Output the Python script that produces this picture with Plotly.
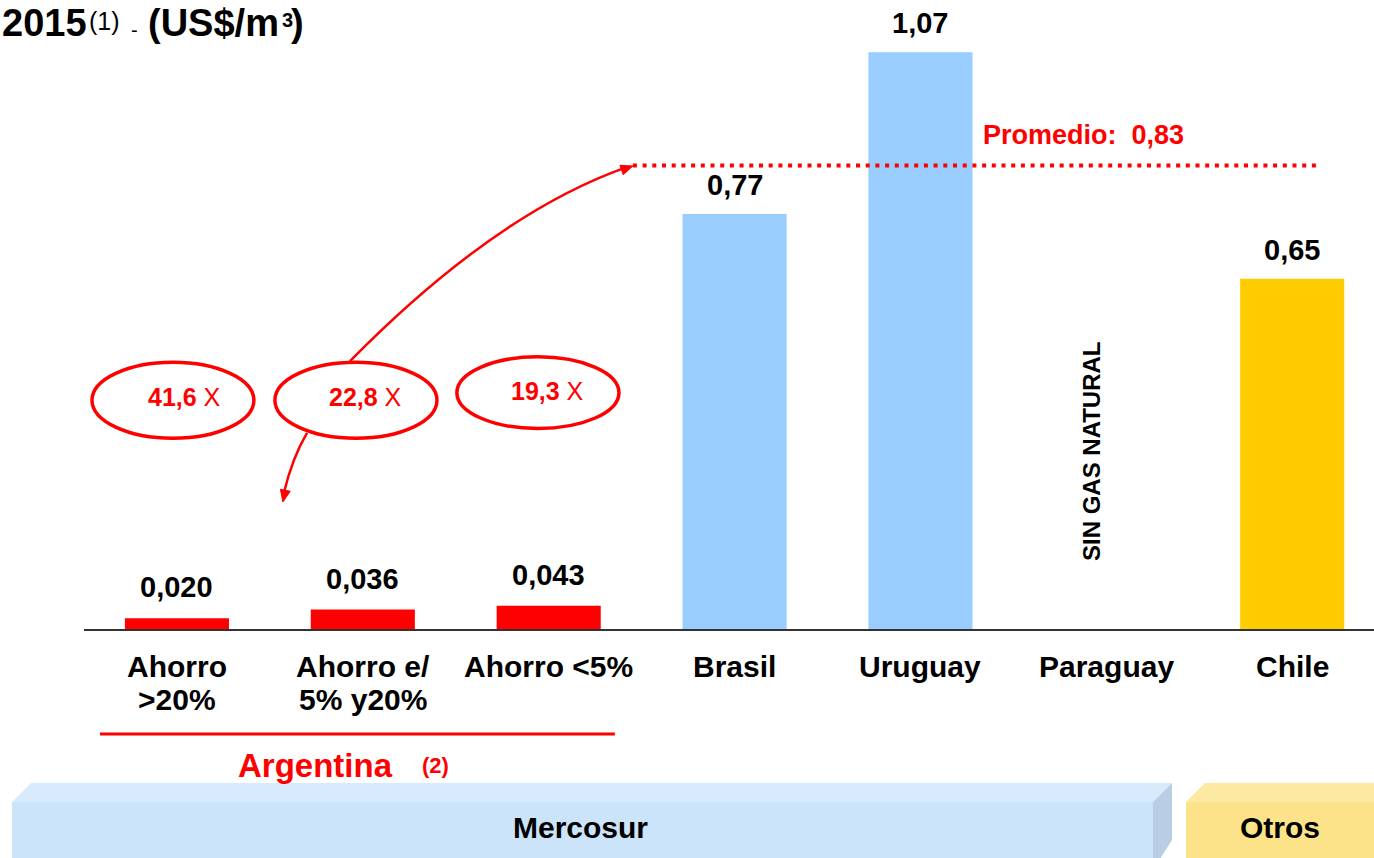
import math
import plotly.graph_objects as go

# ---------------- data ----------------
categorias = ["Ahorro >20%", "Ahorro e/ 5% y20%", "Ahorro <5%", "Brasil", "Uruguay", "Paraguay", "Chile"]
etiquetas_categoria = ["Ahorro<br>&gt;20%", "Ahorro e/<br>5% y20%", "Ahorro &lt;5%",
                       "Brasil", "Uruguay", "Paraguay", "Chile"]
precios = [0.020, 0.036, 0.043, 0.77, 1.07, None, 0.65]   # US$/m3
grupo = ["Argentina", "Argentina", "Argentina", "Mercosur", "Mercosur", "Mercosur", "Otros"]
multiplos = [41.6, 22.8, 19.3]       # veces respecto del promedio
promedio = 0.83                       # valor rotulado
promedio_linea = 0.86                 # nivel de la linea punteada

# ---------------- styles ----------------
FONT = "Liberation Sans, Arial, sans-serif"
RED = "#FF0000"
colores_grupo = {"Argentina": "#FF0000", "Mercosur": "#99CCFF", "Otros": "#FFCC00"}
colores = [colores_grupo[g] for g in grupo]
label_shift = {"Argentina": 31, "Mercosur": 29, "Otros": 29}

W, H = 1374, 858
ML, MB = 84, 229
XR = [-0.5, 6.44]
YR = [0, 1.167]
SX = (W - ML) / (XR[1] - XR[0])      # px per x unit
SY = (H - MB) / (YR[1] - YR[0])      # px per y unit
PW, PH = W - ML, H - MB


def xp(px):
    return (px - ML) / PW


def yp(py):
    return (PH - py) / PH


fig = go.Figure()
fig.add_trace(go.Bar(
    x=list(range(len(categorias))), y=precios,
    marker=dict(color=colores, line=dict(width=0)),
    width=0.56, hoverinfo="skip", showlegend=False,
))

ann = []
shapes = []

# value labels
for i, (v, g) in enumerate(zip(precios, grupo)):
    if v is None:
        continue
    txt = (f"{v:.3f}" if g == "Argentina" else f"{v:.2f}").replace(".", ",")
    ann.append(dict(x=i, y=v, xref="x", yref="y", text=f"<b>{txt}</b>", showarrow=False,
                    yanchor="middle", yshift=label_shift[g], font=dict(family=FONT, size=29, color="black")))

# category labels (one annotation per line)
for i, lab in enumerate(etiquetas_categoria):
    for j, line in enumerate(lab.split("<br>")):
        ann.append(dict(x=i, y=yp(666 + 34 * j), xref="x", yref="paper", text=f"<b>{line}</b>",
                        showarrow=False, yanchor="middle",
                        font=dict(family=FONT, size=30, color="black")))

# Paraguay note
ann.append(dict(x=4.917, y=0.33, xref="x", yref="y", text="<b>SIN GAS NATURAL</b>", textangle=-90,
                showarrow=False, font=dict(family=FONT, size=24, color="black")))

# average line + label
shapes.append(dict(type="line", xref="x", yref="y", x0=2.453, x1=6.138, y0=promedio_linea, y1=promedio_linea,
                   line=dict(color=RED, width=4, dash="4px,5.7px")))
ann.append(dict(x=4.879, y=0.9165, xref="x", yref="y",
                text=f"<b>Promedio:\u00a0\u00a0{promedio:.2f}</b>".replace(".", ","),
                showarrow=False, font=dict(family=FONT, size=27, color=RED)))

# ellipses with multiples
ell_x = [(-0.457, 0.414), (0.527, 1.399), (1.506, 2.378)]
ell_y = [(0.354, 0.495), (0.354, 0.495), (0.372, 0.505)]
txt_pos = [(0.038, 0.430), (1.017, 0.430), (1.996, 0.442)]
for (x0, x1), (y0, y1), (tx, ty), m in zip(ell_x, ell_y, txt_pos, multiplos):
    shapes.append(dict(type="circle", xref="x", yref="y", x0=x0, x1=x1, y0=y0, y1=y1,
                       line=dict(color=RED, width=3.5)))
    ann.append(dict(x=tx, y=ty, xref="x", yref="y",
                    text=f"<b>{m:.1f}</b>".replace(".", ",") + " X", showarrow=False,
                    font=dict(family=FONT, size=25, color=RED)))


def arrow_head(tip, ctrl, length=12, half=5):
    """small filled triangle at tip, oriented along ctrl->tip (data coords)."""
    dxp = (tip[0] - ctrl[0]) * SX
    dyp = -(tip[1] - ctrl[1]) * SY
    n = math.hypot(dxp, dyp)
    ux, uy = dxp / n, dyp / n
    bx, by = -ux * length, -uy * length
    px, py = -uy * half, ux * half
    pts = [(0, 0), (bx + px, by + py), (bx - px, by - py)]
    coords = [(tip[0] + a / SX, tip[1] - b / SY) for a, b in pts]
    return "M " + " L ".join(f"{a:.4f},{b:.4f}" for a, b in coords) + " Z"


# curved arrows
up_start, up_ctrl, up_tip = (0.931, 0.497), (1.711, 0.770), (2.453, 0.859)
shapes.append(dict(type="path", xref="x", yref="y",
                   path=f"M {up_start[0]},{up_start[1]} Q {up_ctrl[0]},{up_ctrl[1]} {up_tip[0] - 0.04},{up_tip[1] - 0.003}",
                   line=dict(color=RED, width=2.5)))
shapes.append(dict(type="path", xref="x", yref="y", path=arrow_head(up_tip, up_ctrl),
                   fillcolor=RED, line=dict(color=RED, width=1)))
dn_start, dn_ctrl, dn_tip = (0.70, 0.364), (0.619, 0.317), (0.570, 0.2356)
shapes.append(dict(type="path", xref="x", yref="y",
                   path=f"M {dn_start[0]},{dn_start[1]} Q {dn_ctrl[0]},{dn_ctrl[1]} {dn_tip[0] + 0.004},{dn_tip[1] + 0.015}",
                   line=dict(color=RED, width=2.5)))
shapes.append(dict(type="path", xref="x", yref="y", path=arrow_head(dn_tip, dn_ctrl),
                   fillcolor=RED, line=dict(color=RED, width=1)))

# Argentina bracket
shapes.append(dict(type="line", xref="x", yref="paper", x0=-0.414, x1=2.356, y0=yp(734), y1=yp(734),
                   line=dict(color=RED, width=3)))
ann.append(dict(x=0.743, y=yp(766), xref="x", yref="paper", text="<b>Argentina</b>", showarrow=False,
                yanchor="middle", font=dict(family=FONT, size=33, color=RED)))
ann.append(dict(x=1.390, y=yp(765), xref="x", yref="paper", text="<b>(2)</b>", showarrow=False,
                yanchor="middle", font=dict(family=FONT, size=22, color=RED)))

# 3D bands: Mercosur / Otros (paper coordinates so they are not clipped)
yt, ym, yb, ys = yp(783), yp(802), yp(870), yp(840)
xa, xb, xc, xd = xp(12), xp(31), xp(1153), xp(1172)
xe, xf, xg = xp(1186), xp(1205), xp(1400)
shapes += [
    dict(type="path", xref="paper", yref="paper", line=dict(width=0), fillcolor="#CCE4FA",
         path=f"M {xa},{ym} L {xc},{ym} L {xc},{yb} L {xa},{yb} Z"),
    dict(type="path", xref="paper", yref="paper", line=dict(width=0), fillcolor="#D8EBFD",
         path=f"M {xa},{ym} L {xb},{yt} L {xd},{yt} L {xc},{ym} Z"),
    dict(type="path", xref="paper", yref="paper", line=dict(width=0), fillcolor="#B9CDE5",
         path=f"M {xc},{ym} L {xd},{yt} L {xd},{ys} L {xc},{yb} Z"),
    dict(type="path", xref="paper", yref="paper", line=dict(width=0), fillcolor="#FCE38A",
         path=f"M {xe},{ym} L {xg},{ym} L {xg},{yb} L {xe},{yb} Z"),
    dict(type="path", xref="paper", yref="paper", line=dict(width=0), fillcolor="#FDE9A2",
         path=f"M {xe},{ym} L {xf},{yt} L {xg},{yt} L {xg},{ym} Z"),
]
ann.append(dict(x=2.173, y=yp(827), xref="x", yref="paper", text="<b>Mercosur</b>", showarrow=False,
                yanchor="middle", font=dict(family=FONT, size=30, color="black")))
ann.append(dict(x=5.934, y=yp(827), xref="x", yref="paper", text="<b>Otros</b>", showarrow=False,
                yanchor="middle", font=dict(family=FONT, size=30, color="black")))

# title, built from pieces: (text, size, left px, centre px)
titulo = [
    ("<b>2015</b>", 38, 0, 23),
    ("(1)", 25, 87, 21),
    ("-", 20, 129, 30),
    ("<b>(US$/m</b>", 38, 146, 23),
    ("<b>3</b>", 20, 280, 20),
    ("<b>)</b>", 38, 289, 23),
]
for t, s, lx, cy in titulo:
    ann.append(dict(x=xp(lx), y=yp(cy), xref="paper", yref="paper", xanchor="left", yanchor="middle",
                    text=t, showarrow=False, font=dict(family=FONT, size=s, color="black")))

fig.update_layout(
    width=W, height=H, autosize=False,
    margin=dict(l=ML, r=0, t=0, b=MB, pad=0),
    paper_bgcolor="white", plot_bgcolor="white",
    xaxis=dict(range=XR, showline=True, linecolor="#333333", linewidth=2,
               showticklabels=False, ticks="", showgrid=False, zeroline=False, fixedrange=True),
    yaxis=dict(range=YR, visible=False, fixedrange=True),
    annotations=ann, shapes=shapes, showlegend=False,
)

fig.write_html("out.html", config={"displayModeBar": False},
               post_script="document.body.style.margin='0';document.body.style.overflow='hidden';")
